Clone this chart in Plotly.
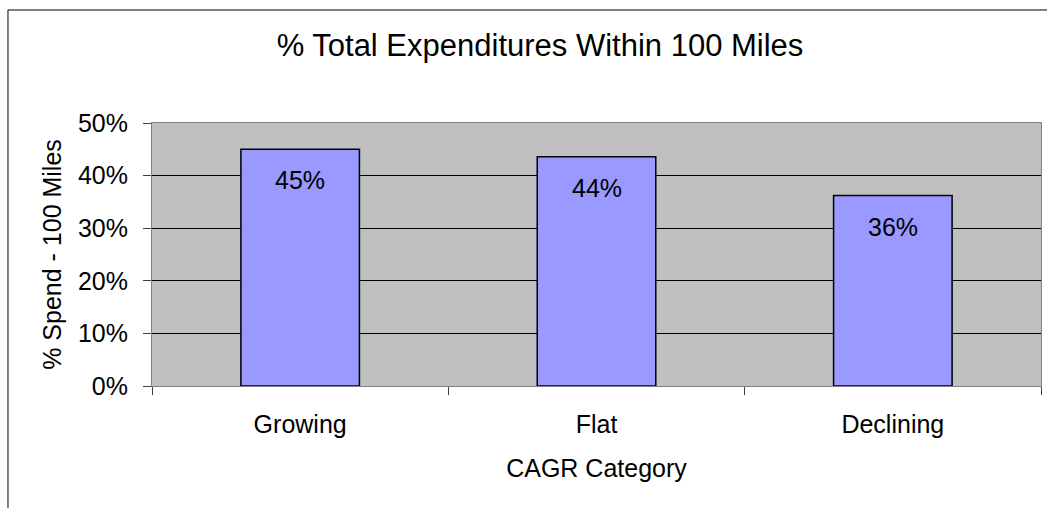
import plotly.graph_objects as go

categories = ["Growing", "Flat", "Declining"]
values = [0.45, 0.436, 0.362]
y_ticks = [0, 0.1, 0.2, 0.3, 0.4, 0.5]
y_tick_labels = ["0%", "10%", "20%", "30%", "40%", "50%"]

FONT = "Liberation Sans, Arial, sans-serif"

fig = go.Figure()
fig.add_trace(go.Bar(
    x=categories, y=values,
    marker=dict(color="#9999FF", line=dict(color="#000000", width=1.5)),
    hoverinfo="skip",
))

for c, v in zip(categories, values):
    fig.add_annotation(x=c, y=v, text=f"{v:.0%}", showarrow=False,
                       yanchor="middle", yshift=-31,
                       font=dict(family=FONT, size=25, color="#000000"))

# outer chart border (cropped on right and bottom in the reference)
fig.add_shape(type="line", xref="paper", yref="paper",
              x0=-0.162, x1=-0.162, y0=-1.0, y1=1.4297,
              line=dict(color="#000000", width=1))
fig.add_shape(type="line", xref="paper", yref="paper",
              x0=-0.162, x1=1.2, y0=1.4297, y1=1.4297,
              line=dict(color="#000000", width=1))

fig.update_layout(
    width=1047, height=508,
    margin=dict(l=152, r=6, t=123, b=122),
    paper_bgcolor="#FFFFFF",
    plot_bgcolor="#C0C0C0",
    bargap=0.6,
    showlegend=False,
    font=dict(family=FONT, size=25, color="#000000"),
    title=dict(text="% Total Expenditures Within 100 Miles",
               x=540 / 1047, xref="container", xanchor="center",
               y=1 - 45 / 508, yref="container", yanchor="middle",
               font=dict(family=FONT, size=31, color="#000000")),
    xaxis=dict(
        showgrid=False, showline=True, linecolor="#808080", linewidth=1,
        mirror=True, ticks="outside", tickson="boundaries", ticklen=8,
        tickcolor="#404040", tickfont=dict(size=25),
        ticklabelstandoff=16,
        title=dict(text="CAGR Category", font=dict(size=25), standoff=22),
    ),
    yaxis=dict(
        range=[0, 0.5], tickvals=y_ticks, ticktext=y_tick_labels,
        showgrid=True, gridcolor="#000000", gridwidth=1,
        zeroline=False, showline=True, linecolor="#808080", linewidth=1,
        mirror=True, ticks="outside", ticklen=8, tickcolor="#404040",
        tickfont=dict(size=25), ticklabelstandoff=10,
        title=dict(text="% Spend - 100 Miles", font=dict(size=25), standoff=9),
    ),
)

fig.write_html("out.html")
